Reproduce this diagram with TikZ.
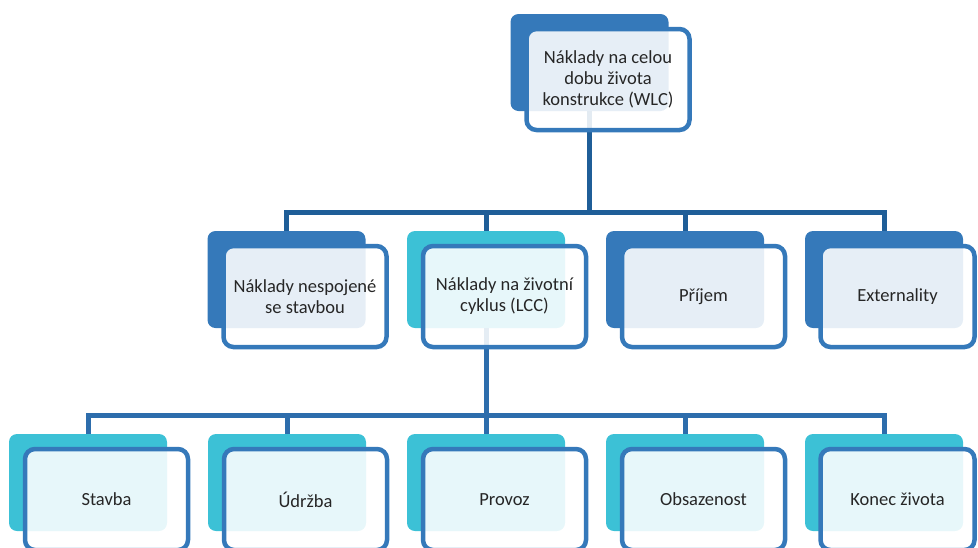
\documentclass[tikz,border=0pt]{standalone}
\usepackage{fontspec}
\setmainfont{Carlito}
\usepackage{tikz}
\usetikzlibrary{positioning,calc}
\definecolor{wlcblue}{HTML}{3579BA}
\definecolor{wlccyan}{HTML}{3CC1D6}
\definecolor{wlcline}{HTML}{1F5E98}
\definecolor{lccline}{HTML}{2D6DAC}
\definecolor{wlctext}{HTML}{262626}

\begin{document}
\begin{tikzpicture}[x=1pt, y=1pt,
  backbox/.style={rectangle, rounded corners=8pt, fill=#1,
    minimum width=158pt, minimum height=97pt, inner sep=0pt},
  backbox/.default=wlcblue,
  card/.style={rectangle, rounded corners=10pt, draw=wlcblue, line width=4.5pt,
    fill=white, fill opacity=0.88, text opacity=1, text=wlctext,
    minimum width=163pt, minimum height=101pt, inner sep=0pt, align=center,
    font=\fontsize{18.5}{21}\selectfont},
  link/.style={line width=5pt, color=#1},
  link/.default=wlcline
]
\useasboundingbox (0,0) rectangle (978,-547);

% coloured back plates
\node[backbox] (topb) at (589.5,-62.5) {};

\node[backbox] (k1b) at (286.5,-279.5) {};
\node[backbox=wlccyan] (k2b) at (486,-279.5) {};
\node[backbox] (k3b) at (685,-279.5) {};
\node[backbox] (k4b) at (884,-279.5) {};

\node[backbox=wlccyan] (f1b) at (88,-482.5) {};
\node[backbox=wlccyan] (f2b) at (287,-482.5) {};
\node[backbox=wlccyan] (f3b) at (486,-482.5) {};
\node[backbox=wlccyan] (f4b) at (685,-482.5) {};
\node[backbox=wlccyan] (f5b) at (884,-482.5) {};

% connectors
\draw[link] (topb.south) -- ++(0,-101.5) -| (k1b.north);
\draw[link] (topb.south) -- ++(0,-101.5) -| (k2b.north);
\draw[link] (topb.south) -- ++(0,-101.5) -| (k3b.north);
\draw[link] (topb.south) -- ++(0,-101.5) -| (k4b.north);

\draw[link=lccline] (k2b.south) -- ++(0,-87.5) -| (f1b.north);
\draw[link=lccline] (k2b.south) -- ++(0,-87.5) -| (f2b.north);
\draw[link=lccline] (k2b.south) -- ++(0,-87.5) -| (f3b.north);
\draw[link=lccline] (k2b.south) -- ++(0,-87.5) -| (f4b.north);
\draw[link=lccline] (k2b.south) -- ++(0,-87.5) -| (f5b.north);

% framed cards with the text
\node[card] (top) at ($(topb)+(18.5,-17)$) {Náklady na celou\\dobu života\\konstrukce (WLC)};

\node[card] (k1) at ($(k1b)+(18.5,-17)$) {Náklady nespojené\\se stavbou};
\node[card] (k2) at ($(k2b)+(18.5,-17)$) {Náklady na životní\\cyklus (LCC)};
\node[card] (k3) at ($(k3b)+(18.5,-17)$) {Příjem};
\node[card, minimum width=154pt] (k4) at ($(k4b)+(13.5,-17)$) {Externality};

\node[card] (f1) at ($(f1b)+(18.5,-17)$) {Stavba};
\node[card] (f2) at ($(f2b)+(18.5,-17)$) {Údržba};
\node[card] (f3) at ($(f3b)+(18.5,-17)$) {Provoz};
\node[card] (f4) at ($(f4b)+(18.5,-17)$) {Obsazenost};
\node[card, minimum width=154pt] (f5) at ($(f5b)+(13.5,-17)$) {Konec života};
\end{tikzpicture}
\end{document}
